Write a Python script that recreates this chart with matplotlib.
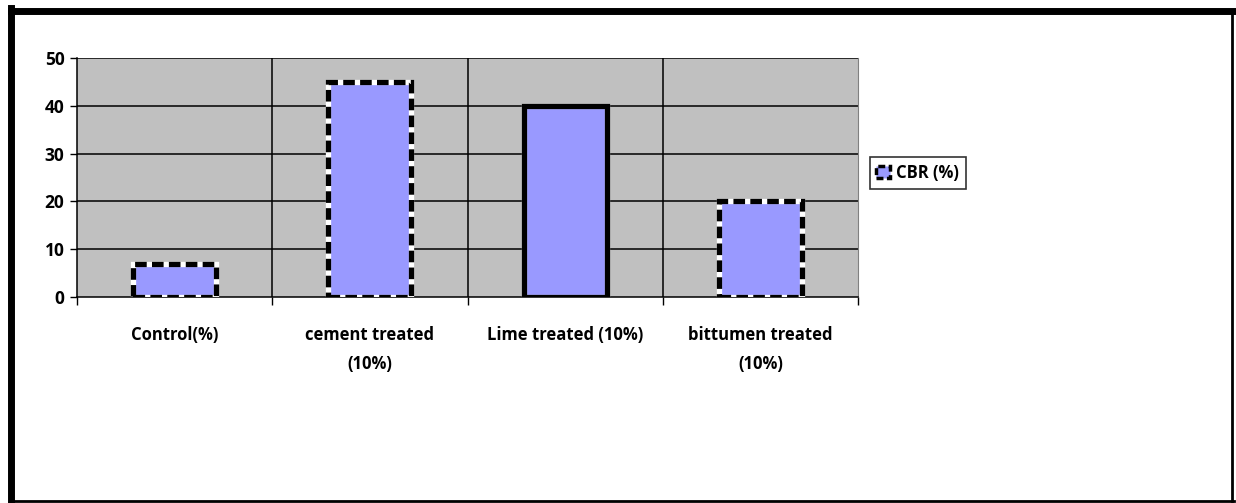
import matplotlib.pyplot as plt
from matplotlib.patches import Patch
from matplotlib.lines import Line2D

# CBR results for the treated soil samples
categories = ['Control(%)', 'cement treated\n(10%)', 'Lime treated (10%)', 'bittumen treated\n(10%)']
cbr = [7, 45, 40, 20]
series_name = 'CBR (%)'

plt.rcParams['font.family'] = ['Open Sans', 'DejaVu Sans']
plt.rcParams['font.weight'] = 'bold'

bar_color = '#9999FF'
plot_bg = '#C0C0C0'
edge_dash = [True, True, False, True]

fig = plt.figure(figsize=(12.36, 5.03), dpi=100)
ax = fig.add_axes([0.0623, 0.4095, 0.6319, 0.4751])
ax.set_facecolor(plot_bg)

x = list(range(len(categories)))
bw = 0.425
for xi, val, dashed in zip(x, cbr, edge_dash):
    # white underlay so the dashed border shows black/white segments
    ax.bar(xi, val, width=bw, color=bar_color, edgecolor='white', linewidth=3.8, zorder=3)
    ls = (0, (2.2, 1.0)) if dashed else '-'
    ax.bar(xi, val, width=bw, color='none', edgecolor='black', linewidth=3.8,
           linestyle=ls, zorder=4)

ax.set_xlim(-0.5, len(categories) - 0.5)
ax.set_ylim(0, 50)
ax.set_yticks([0, 10, 20, 30, 40, 50])

# horizontal gridlines and vertical category separators
for yv in [10, 20, 30, 40, 50]:
    ax.axhline(yv, color='black', linewidth=1.1, zorder=1)
for b in [0.5, 1.5, 2.5]:
    ax.axvline(b, color='black', linewidth=1.1, zorder=1)

ax.set_xticks(x)
ax.set_xticklabels(categories, fontsize=12, fontweight='bold', linespacing=1.75)
ax.set_xticks([-0.5, 0.5, 1.5, 2.5, 3.5], minor=True)
ax.tick_params(axis='x', which='major', length=0, pad=21)
ax.tick_params(axis='x', which='minor', length=6, width=1, color='black')
ax.tick_params(axis='y', length=5, width=1, pad=4, labelsize=12.5)
for lab in ax.get_yticklabels():
    lab.set_fontweight('bold')

ax.spines['top'].set_visible(False)
ax.spines['right'].set_color('#808080')
ax.spines['left'].set_linewidth(1.1)
ax.spines['bottom'].set_linewidth(1.1)

handle = Patch(facecolor=bar_color, edgecolor='black', linewidth=2.5, linestyle=(0, (2, 1)))
leg = ax.legend([handle], [series_name], loc='upper left', bbox_to_anchor=(1.015, 0.585),
                frameon=True, fancybox=False, fontsize=12, handlelength=0.8,
                handleheight=0.8, handletextpad=0.4, borderpad=0.4, borderaxespad=0)
leg.get_frame().set_edgecolor('black')
leg.get_frame().set_linewidth(1.2)
for t in leg.get_texts():
    t.set_fontweight('bold')

# outer chart border, heavier on top and left
fig.add_artist(Line2D([0.0085, 0.998], [0.0030, 0.0030], transform=fig.transFigure, color='black', lw=2))
fig.add_artist(Line2D([0.997, 0.997], [0.0030, 0.980], transform=fig.transFigure, color='black', lw=2))
fig.add_artist(Line2D([0.0085, 0.998], [0.979, 0.979], transform=fig.transFigure, color='black', lw=5))
fig.add_artist(Line2D([0.0090, 0.0090], [0.003, 0.984], transform=fig.transFigure, color='black', lw=5))

fig.savefig('out.png', dpi=100)
